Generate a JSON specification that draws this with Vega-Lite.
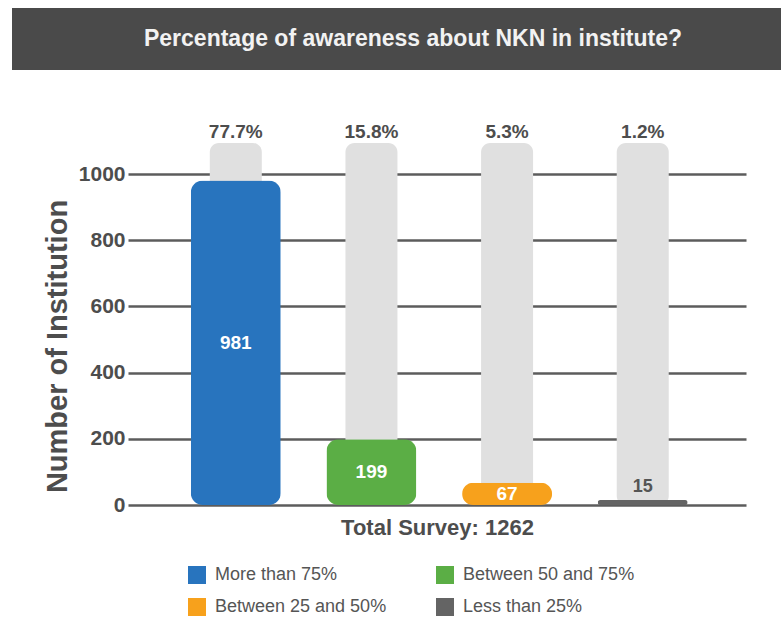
{
  "$schema": "https://vega.github.io/schema/vega-lite/v6.json",
  "background": "white",
  "padding": {"left": 12, "top": 8, "right": 0, "bottom": 0},
  "config": {"font": "Liberation Sans", "view": {"stroke": null}},
  "spacing": 52,
  "center": true,
  "vconcat": [
    {
      "width": 850,
      "height": 62,
      "view": {"fill": "#4a4a4a", "stroke": null},
      "data": {"values": [{"t": "Percentage of awareness about NKN in institute?"}]},
      "mark": {"type": "text", "color": "#f2f2f2", "fontWeight": "bold", "fontSize": 23, "dx": -24},
      "encoding": {"text": {"field": "t"}}
    },
    {
      "width": 618,
      "height": 364,
      "data": {"values": [
        {"group": "More than 75%", "count": 981, "pct": "77.7%"},
        {"group": "Between 50 and 75%", "count": 199, "pct": "15.8%"},
        {"group": "Between 25 and 50%", "count": 67, "pct": "5.3%"},
        {"group": "Less than 25%", "count": 15, "pct": "1.2%"}
      ]},
      "encoding": {
        "x": {
          "field": "group", "type": "nominal", "sort": null,
          "scale": {"paddingInner": 0, "paddingOuter": 0.278, "align": 0.53},
          "axis": {"labels": false, "ticks": false, "domain": false, "title": "Total Survey: 1262",
                   "titleFontSize": 22, "titleFontWeight": "bold", "titleColor": "#4d4d4d", "titlePadding": 12}
        }
      },
      "layer": [
        {
          "encoding": {
            "y": {"type": "quantitative",
                  "scale": {"domain": [0, 1100], "nice": false},
                  "axis": {"values": [0, 200, 400, 600, 800, 1000], "format": "d", "grid": true, "gridColor": "#5c5c5c", "gridWidth": 2.5,
                           "domain": false, "ticks": false, "labelFontSize": 21, "labelFontWeight": "bold",
                           "labelColor": "#4d4d4d", "labelPadding": 3,
                           "title": "Number of Institution", "titleFontSize": 29, "titleFontWeight": "bold",
                           "titleColor": "#4d4d4d", "titlePadding": 6, "titleY": 205}}
          },
          "layer": [
            {
              "mark": {"type": "bar", "size": 52, "cornerRadius": 9, "color": "#e0e0e0"},
              "encoding": {"y": {"datum": 1094, "type": "quantitative"}}
            },
            {
              "mark": {"type": "bar", "size": 90, "cornerRadius": 12},
              "encoding": {
                "y": {"field": "count", "type": "quantitative"},
                "color": {
                  "field": "group", "type": "nominal", "sort": null,
                  "scale": {"domain": ["More than 75%", "Between 50 and 75%", "Between 25 and 50%", "Less than 25%"],
                            "range": ["#2874be", "#5bae45", "#f7a11c", "#646464"]},
                  "legend": {"title": null, "orient": "none", "legendX": 176, "legendY": 558, "columns": 2,
                             "direction": "horizontal",
                             "columnPadding": 49, "rowPadding": 14, "symbolType": "square", "symbolSize": 324,
                             "symbolStrokeWidth": 0, "symbolOpacity": 1, "labelOffset": 9, "labelFontSize": 18,
                             "labelColor": "#555555", "labelLimit": 300}
                }
              }
            },
            {
              "mark": {"type": "text", "fontSize": 19, "fontWeight": "bold", "color": "#4d4d4d", "baseline": "middle", "dy": -11},
              "encoding": {"y": {"datum": 1094, "type": "quantitative"}, "text": {"field": "pct"}}
            },
            {
              "transform": [{"filter": "datum.count < 40"}],
              "mark": {"type": "text", "fontSize": 18, "fontWeight": "bold", "color": "#555555", "baseline": "middle", "dy": -13},
              "encoding": {"y": {"field": "count", "type": "quantitative"}, "text": {"field": "count"}}
            }
          ]
        },
        {
          "transform": [{"filter": "datum.count >= 40"}],
          "mark": {"type": "text", "fontSize": 19, "fontWeight": "bold", "color": "white", "baseline": "middle"},
          "encoding": {
            "y": {"field": "count", "type": "quantitative", "scale": {"domain": [0, 2200], "nice": false}, "axis": null},
            "text": {"field": "count"}
          }
        }
      ],
      "resolve": {"scale": {"y": "independent"}}
    }
  ]
}
